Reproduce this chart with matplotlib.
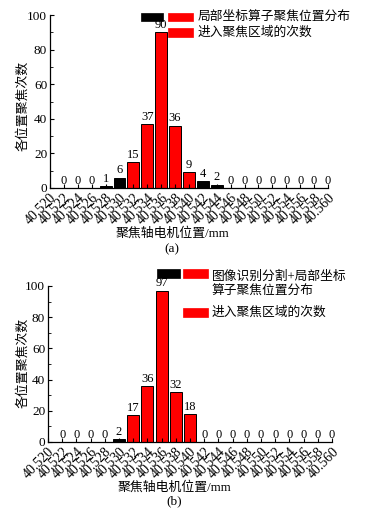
import matplotlib
matplotlib.use("Agg")
import matplotlib.pyplot as plt
from matplotlib.patches import Rectangle
from matplotlib.ticker import MultipleLocator

plt.rcParams["font.family"] = ["Liberation Serif", "Noto Sans CJK SC"]

# motor positions (mm) for the bars, 40.522 .. 40.560
positions = [40.522, 40.524, 40.526, 40.528, 40.530, 40.532, 40.534, 40.536, 40.538, 40.540,
             40.542, 40.544, 40.546, 40.548, 40.550, 40.552, 40.554, 40.556, 40.558, 40.560]
tick_pos = [40.520] + positions
tick_labels = [f"{p:.3f}" for p in tick_pos]

# (a) local coordinate operator
counts_a = [0, 0, 0, 1, 6, 15, 37, 90, 36, 9, 4, 2, 0, 0, 0, 0, 0, 0, 0, 0]
in_region_a = [0, 0, 0, 0, 0, 1, 1, 1, 1, 1, 0, 0, 0, 0, 0, 0, 0, 0, 0, 0]
# (b) image segmentation + local coordinate operator
counts_b = [0, 0, 0, 0, 2, 17, 36, 97, 32, 18, 0, 0, 0, 0, 0, 0, 0, 0, 0, 0]
in_region_b = [0, 0, 0, 0, 0, 1, 1, 1, 1, 1, 0, 0, 0, 0, 0, 0, 0, 0, 0, 0]

legend_a = ["局部坐标算子聚焦位置分布", "进入聚焦区域的次数"]
legend_b = ["图像识别分割+局部坐标\n算子聚焦位置分布", "进入聚焦区域的次数"]
ylabel = "各位置聚焦次数"
xlabel = "聚焦轴电机位置/mm"

W, H = 376, 515
fig = plt.figure(figsize=(W / 100, H / 100), dpi=100)
fig.patch.set_facecolor("white")


def px_ax(l, t, r, b):
    return fig.add_axes([l / W, 1 - b / H, (r - l) / W, (b - t) / H])


def fig_rect(x0, y0, x1, y1, color):
    fig.add_artist(Rectangle((x0 / W, 1 - y1 / H), (x1 - x0) / W, (y1 - y0) / H,
                             transform=fig.transFigure, facecolor=color,
                             edgecolor=color, linewidth=0.5))


def panel(ax, counts, region, lab_x, lab_y):
    colors = ["#ff0000" if r else "#000000" for r in region]
    ax.bar(positions, counts, width=0.0017, color=colors, edgecolor="black", linewidth=0.7)
    for p, c in zip(positions, counts):
        ax.text(p, c + 0.8, str(c), ha="center", va="bottom", fontsize=9, clip_on=False)
    ax.set_xlim(40.520, 40.560)
    ax.set_ylim(0, 100)
    ax.set_xticks(tick_pos)
    ax.set_xticklabels(tick_labels, rotation=45, ha="right", va="top",
                       rotation_mode="anchor", fontsize=10)
    ax.yaxis.set_major_locator(MultipleLocator(20))
    ax.yaxis.set_minor_locator(MultipleLocator(10))
    ax.tick_params(axis="both", which="major", direction="in", length=3, width=0.8, pad=2)
    ax.tick_params(axis="y", which="minor", direction="in", length=1.8, width=0.6)
    ax.tick_params(axis="y", labelsize=9.5)
    for s in ["top", "right"]:
        ax.spines[s].set_visible(False)
    for s in ["left", "bottom"]:
        ax.spines[s].set_linewidth(0.9)
    ax.set_ylabel(ylabel, fontsize=9.3)
    ax.yaxis.set_label_coords(lab_x, lab_y)


ax1 = px_ax(50, 15, 328, 188)
panel(ax1, counts_a, in_region_a, -0.075, 0.474)
ax2 = px_ax(48, 286, 332, 442)
panel(ax2, counts_b, in_region_b, -0.067, 0.51)

# x labels and captions
fig.text(172 / W, 1 - 233 / H, xlabel, ha="center", va="center", fontsize=9.3)
fig.text(172 / W, 1 - 249 / H, "(a)", ha="center", va="center", fontsize=9.5)
fig.text(174 / W, 1 - 487 / H, xlabel, ha="center", va="center", fontsize=9.3)
fig.text(174 / W, 1 - 501 / H, "(b)", ha="center", va="center", fontsize=9.5)

# legend (a)
fig_rect(141, 13, 163, 21, "#000000")
fig_rect(168, 13, 193, 21, "#ff0000")
fig.text(198 / W, 1 - 17 / H, legend_a[0], ha="left", va="center", fontsize=9.2)
fig_rect(168, 28, 193, 37, "#ff0000")
fig.text(198 / W, 1 - 33 / H, legend_a[1], ha="left", va="center", fontsize=9.2)

# legend (b)
fig_rect(157, 269, 180, 278, "#000000")
fig_rect(183, 269, 208, 278, "#ff0000")
fig.text(212 / W, 1 - 284 / H, legend_b[0], ha="left", va="center", fontsize=9.2,
         linespacing=1.35)
fig_rect(183, 308, 208, 317, "#ff0000")
fig.text(212 / W, 1 - 313 / H, legend_b[1], ha="left", va="center", fontsize=9.2)

fig.savefig("out.png", dpi=100)
